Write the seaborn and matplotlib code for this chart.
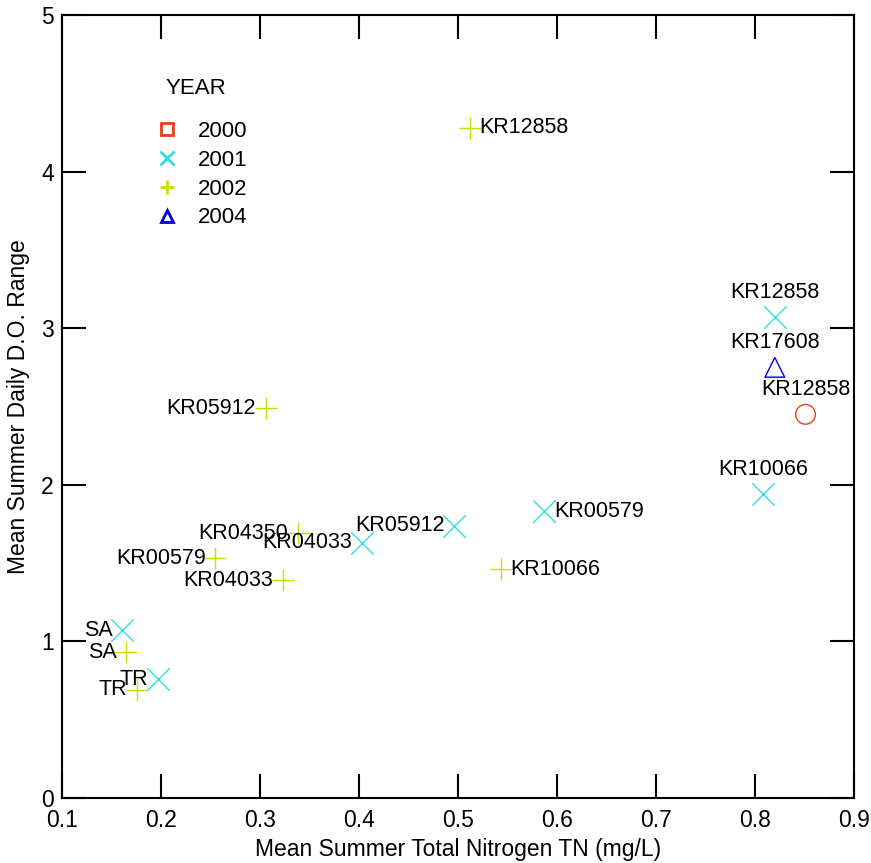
import numpy as np
import pandas as pd
import seaborn as sns
import matplotlib.pyplot as plt
from matplotlib.lines import Line2D

# values
year = [2002, 2001, 2004, 2000, 2001, 2001, 2002, 2001, 2001,
        2002, 2002, 2002, 2002, 2001, 2002, 2001, 2002]
station = ['KR12858', 'KR12858', 'KR17608', 'KR12858', 'KR10066', 'KR00579',
           'KR10066', 'KR05912', 'KR04033', 'KR04350', 'KR00579', 'KR04033',
           'KR05912', 'SA', 'SA', 'TR', 'TR']
tn = [0.512, 0.820, 0.820, 0.851, 0.808, 0.587, 0.543, 0.496, 0.403,
      0.338, 0.255, 0.323, 0.306, 0.161, 0.165, 0.197, 0.176]
do_range = [4.28, 3.07, 2.75, 2.45, 1.94, 1.83, 1.46, 1.74, 1.63,
            1.69, 1.53, 1.39, 2.49, 1.07, 0.93, 0.76, 0.69]
label_side = ['right', 'above', 'above', 'above', 'above', 'right', 'right', 'left',
              'left', 'left', 'left', 'left', 'left', 'left', 'left', 'left', 'left']

years = [2000, 2001, 2002, 2004]
year_colors = {2000: '#e8401c', 2001: '#30e0e0', 2002: '#c8e000', 2004: '#0000e0'}
plot_markers = {2000: 'o', 2001: 'x', 2002: '+', 2004: '^'}
legend_markers = {2000: 's', 2001: 'x', 2002: '+', 2004: '^'}

df = pd.DataFrame({'year': year, 'station': station, 'tn': tn, 'do': do_range, 'side': label_side})

sns.set_theme(style='ticks')
plt.rcParams['font.family'] = ['Liberation Sans', 'DejaVu Sans']
plt.rcParams['text.color'] = 'black'
plt.rcParams['axes.labelcolor'] = 'black'

fig = plt.figure(figsize=(8.71, 8.63), dpi=100)
ax = fig.add_axes([0.0712, 0.0753, 0.9093, 0.9073])

for y in years:
    sub = df[df['year'] == y]
    m = plot_markers[y]
    c = year_colors[y]
    if m in ('o', '^'):
        sns.scatterplot(data=sub, x='tn', y='do', marker=m, s=200, facecolor='none',
                        edgecolor=c, linewidth=1.0, ax=ax, legend=False)
    else:
        sns.scatterplot(data=sub, x='tn', y='do', marker=m, s=260, color=c,
                        linewidth=1.0, ax=ax, legend=False)

# point labels
offsets = {'right': ((7, 0), 'left', 'center'),
           'left': ((-7, 0), 'right', 'center'),
           'above': ((0, 10), 'center', 'bottom')}
for _, r in df.iterrows():
    off, ha, va = offsets[r['side']]
    ax.annotate(r['station'], (r['tn'], r['do']), xytext=off, textcoords='offset points',
                ha=ha, va=va, fontsize=15.5, color='black')

ax.set_xlim(0.1, 0.9)
ax.set_ylim(0, 5)
ax.set_xticks(np.arange(0.1, 0.91, 0.1))
ax.set_yticks(range(0, 6))
ax.set_xticklabels([f'{v:.1f}' for v in np.arange(0.1, 0.91, 0.1)])
ax.tick_params(direction='in', length=17, width=1.5, top=True, right=True,
               labelsize=16.5, colors='black', pad=8)
ax.tick_params(axis='y', pad=6)
for sp in ax.spines.values():
    sp.set_linewidth(1.5)
    sp.set_color('black')

ax.set_xlabel('Mean Summer Total Nitrogen TN (mg/L)', fontsize=16.5, labelpad=4)
ax.set_ylabel('Mean Summer Daily D.O. Range', fontsize=16.5, labelpad=8)

# legend: title drawn as text, entries below it
ax.text(0.1305, 0.906, 'YEAR', transform=ax.transAxes, fontsize=16, ha='left', va='center')
handles = []
for y in years:
    m = legend_markers[y]
    if m in ('s', '^'):
        h = Line2D([], [], linestyle='none', marker=m, markersize=8, markerfacecolor='none',
                   markeredgecolor=year_colors[y], markeredgewidth=2, label=str(y))
    else:
        h = Line2D([], [], linestyle='none', marker=m, markersize=10,
                   markeredgecolor=year_colors[y], markeredgewidth=2, label=str(y))
    handles.append(h)
ax.legend(handles=handles, loc='upper left', bbox_to_anchor=(0.107, 0.876),
          frameon=False, fontsize=16, handletextpad=0.9, labelspacing=0.35,
          handlelength=1.0, borderaxespad=0)

fig.savefig('out.png', dpi=100)
